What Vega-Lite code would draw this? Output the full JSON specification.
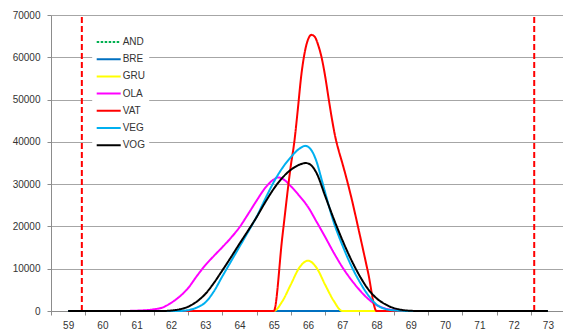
{
  "$schema": "https://vega.github.io/schema/vega-lite/v6.json",
  "width": 512,
  "height": 296,
  "autosize": {"type": "none"},
  "padding": {"left": 51, "top": 15, "right": 0, "bottom": 21},
  "background": "white",
  "config": {
    "view": {"stroke": null},
    "axis": {"labelFont": "Liberation Sans", "labelFontSize": 10, "labelColor": "#333333", "domainColor": "#8c8c8c", "tickColor": "#8c8c8c", "gridColor": "#a6a6a6", "title": null}
  },
  "datasets": {
    "limits": [{"x": 59.4}, {"x": 72.6}],
    "curves": [
      {"s": "AND", "x": 59, "y": 0}, {"s": "AND", "x": 73, "y": 0},
      {"s": "BRE", "x": 59, "y": 0}, {"s": "BRE", "x": 73, "y": 0},
      {"s": "GRU", "x": 59, "y": 0}, {"s": "GRU", "x": 65, "y": 0}, {"s": "GRU", "x": 65.25, "y": 2300}, {"s": "GRU", "x": 65.5, "y": 6300}, {"s": "GRU", "x": 65.75, "y": 10300}, {"s": "GRU", "x": 66, "y": 11900}, {"s": "GRU", "x": 66.25, "y": 10200}, {"s": "GRU", "x": 66.5, "y": 6200}, {"s": "GRU", "x": 66.75, "y": 2400}, {"s": "GRU", "x": 67, "y": 0}, {"s": "GRU", "x": 73, "y": 0},
      {"s": "OLA", "x": 59, "y": 0}, {"s": "OLA", "x": 60.5, "y": 0}, {"s": "OLA", "x": 61, "y": 80}, {"s": "OLA", "x": 61.5, "y": 400}, {"s": "OLA", "x": 61.75, "y": 800}, {"s": "OLA", "x": 62, "y": 1900}, {"s": "OLA", "x": 62.25, "y": 3400}, {"s": "OLA", "x": 62.5, "y": 5400}, {"s": "OLA", "x": 62.75, "y": 8200}, {"s": "OLA", "x": 63, "y": 10800}, {"s": "OLA", "x": 63.25, "y": 13000}, {"s": "OLA", "x": 63.5, "y": 15100}, {"s": "OLA", "x": 63.75, "y": 17300}, {"s": "OLA", "x": 64, "y": 19800}, {"s": "OLA", "x": 64.25, "y": 22900}, {"s": "OLA", "x": 64.5, "y": 26100}, {"s": "OLA", "x": 64.75, "y": 29100}, {"s": "OLA", "x": 65, "y": 31100}, {"s": "OLA", "x": 65.12, "y": 31600}, {"s": "OLA", "x": 65.25, "y": 31300}, {"s": "OLA", "x": 65.5, "y": 29500}, {"s": "OLA", "x": 65.75, "y": 27200}, {"s": "OLA", "x": 66, "y": 24600}, {"s": "OLA", "x": 66.25, "y": 21100}, {"s": "OLA", "x": 66.5, "y": 17500}, {"s": "OLA", "x": 66.75, "y": 13800}, {"s": "OLA", "x": 67, "y": 10400}, {"s": "OLA", "x": 67.25, "y": 7500}, {"s": "OLA", "x": 67.5, "y": 5000}, {"s": "OLA", "x": 67.75, "y": 2900}, {"s": "OLA", "x": 68, "y": 1400}, {"s": "OLA", "x": 68.25, "y": 600}, {"s": "OLA", "x": 68.5, "y": 200}, {"s": "OLA", "x": 69, "y": 0}, {"s": "OLA", "x": 73, "y": 0},
      {"s": "VAT", "x": 59, "y": 0}, {"s": "VAT", "x": 65, "y": 0}, {"s": "VAT", "x": 65.25, "y": 17500}, {"s": "VAT", "x": 65.5, "y": 34500}, {"s": "VAT", "x": 65.6, "y": 40000}, {"s": "VAT", "x": 65.7, "y": 47500}, {"s": "VAT", "x": 65.8, "y": 55500}, {"s": "VAT", "x": 65.9, "y": 61000}, {"s": "VAT", "x": 66, "y": 64200}, {"s": "VAT", "x": 66.1, "y": 65300}, {"s": "VAT", "x": 66.2, "y": 64800}, {"s": "VAT", "x": 66.3, "y": 62800}, {"s": "VAT", "x": 66.4, "y": 59800}, {"s": "VAT", "x": 66.5, "y": 55500}, {"s": "VAT", "x": 66.6, "y": 50300}, {"s": "VAT", "x": 66.7, "y": 45300}, {"s": "VAT", "x": 66.8, "y": 41000}, {"s": "VAT", "x": 66.9, "y": 37800}, {"s": "VAT", "x": 67, "y": 35000}, {"s": "VAT", "x": 67.25, "y": 27300}, {"s": "VAT", "x": 67.5, "y": 18400}, {"s": "VAT", "x": 67.75, "y": 9200}, {"s": "VAT", "x": 68, "y": 0}, {"s": "VAT", "x": 73, "y": 0},
      {"s": "VEG", "x": 59, "y": 0}, {"s": "VEG", "x": 62.25, "y": 0}, {"s": "VEG", "x": 62.5, "y": 200}, {"s": "VEG", "x": 62.75, "y": 800}, {"s": "VEG", "x": 63, "y": 2000}, {"s": "VEG", "x": 63.25, "y": 4600}, {"s": "VEG", "x": 63.5, "y": 8200}, {"s": "VEG", "x": 63.75, "y": 11700}, {"s": "VEG", "x": 64, "y": 15200}, {"s": "VEG", "x": 64.25, "y": 18700}, {"s": "VEG", "x": 64.5, "y": 22300}, {"s": "VEG", "x": 64.75, "y": 26500}, {"s": "VEG", "x": 65, "y": 30500}, {"s": "VEG", "x": 65.25, "y": 33800}, {"s": "VEG", "x": 65.5, "y": 36400}, {"s": "VEG", "x": 65.75, "y": 38400}, {"s": "VEG", "x": 65.92, "y": 39050}, {"s": "VEG", "x": 66.1, "y": 38000}, {"s": "VEG", "x": 66.25, "y": 35300}, {"s": "VEG", "x": 66.4, "y": 31000}, {"s": "VEG", "x": 66.5, "y": 28000}, {"s": "VEG", "x": 66.75, "y": 21000}, {"s": "VEG", "x": 67, "y": 15600}, {"s": "VEG", "x": 67.25, "y": 10900}, {"s": "VEG", "x": 67.5, "y": 7000}, {"s": "VEG", "x": 67.75, "y": 3800}, {"s": "VEG", "x": 68, "y": 1500}, {"s": "VEG", "x": 68.25, "y": 500}, {"s": "VEG", "x": 68.5, "y": 150}, {"s": "VEG", "x": 69, "y": 0}, {"s": "VEG", "x": 73, "y": 0},
      {"s": "VOG", "x": 59, "y": 0}, {"s": "VOG", "x": 61.75, "y": 0}, {"s": "VOG", "x": 62, "y": 100}, {"s": "VOG", "x": 62.25, "y": 400}, {"s": "VOG", "x": 62.5, "y": 1000}, {"s": "VOG", "x": 62.75, "y": 2200}, {"s": "VOG", "x": 63, "y": 4000}, {"s": "VOG", "x": 63.25, "y": 6600}, {"s": "VOG", "x": 63.5, "y": 9600}, {"s": "VOG", "x": 63.75, "y": 12700}, {"s": "VOG", "x": 64, "y": 15900}, {"s": "VOG", "x": 64.25, "y": 19000}, {"s": "VOG", "x": 64.5, "y": 22200}, {"s": "VOG", "x": 64.75, "y": 25700}, {"s": "VOG", "x": 65, "y": 28900}, {"s": "VOG", "x": 65.25, "y": 31500}, {"s": "VOG", "x": 65.5, "y": 33400}, {"s": "VOG", "x": 65.75, "y": 34600}, {"s": "VOG", "x": 65.93, "y": 35000}, {"s": "VOG", "x": 66.1, "y": 34400}, {"s": "VOG", "x": 66.25, "y": 32600}, {"s": "VOG", "x": 66.5, "y": 27200}, {"s": "VOG", "x": 66.75, "y": 21800}, {"s": "VOG", "x": 67, "y": 16800}, {"s": "VOG", "x": 67.25, "y": 12300}, {"s": "VOG", "x": 67.5, "y": 8400}, {"s": "VOG", "x": 67.75, "y": 5200}, {"s": "VOG", "x": 68, "y": 3000}, {"s": "VOG", "x": 68.25, "y": 1600}, {"s": "VOG", "x": 68.5, "y": 700}, {"s": "VOG", "x": 68.75, "y": 250}, {"s": "VOG", "x": 69, "y": 50}, {"s": "VOG", "x": 69.25, "y": 0}, {"s": "VOG", "x": 73, "y": 0}
    ]
  },
  "layer": [
    {
      "data": {"name": "limits"},
      "mark": {"type": "rule", "color": "#ff0000", "strokeWidth": 2, "strokeDash": [6, 3]},
      "encoding": {
        "x": {"field": "x", "type": "quantitative", "scale": {"domain": [58.5, 73.44], "nice": false, "zero": false},
          "axis": {"values": [59, 60, 61, 62, 63, 64, 65, 66, 67, 68, 69, 70, 71, 72, 73], "format": "d", "labelOverlap": false, "labelBound": false, "labelFlush": false,
            "tickSize": 4, "tickOffset": -17.13, "labelOffset": 17.13, "labelPadding": 5, "labelBaseline": "top", "grid": false}},
        "y": {"datum": 0, "type": "quantitative"},
        "y2": {"datum": 70000}
      }
    },
    {
      "data": {"name": "curves"},
      "mark": {"type": "line", "interpolate": "monotone", "strokeWidth": 2},
      "encoding": {
        "x": {"field": "x", "type": "quantitative", "scale": {"domain": [58.5, 73.44], "nice": false, "zero": false},
          "axis": {"values": [59, 60, 61, 62, 63, 64, 65, 66, 67, 68, 69, 70, 71, 72, 73], "format": "d", "labelOverlap": false, "labelBound": false, "labelFlush": false,
            "tickSize": 4, "tickOffset": -17.13, "labelOffset": 17.13, "labelPadding": 5, "labelBaseline": "top", "grid": false}},
        "y": {"field": "y", "type": "quantitative", "scale": {"domain": [0, 70000], "nice": false},
          "axis": {"values": [0, 10000, 20000, 30000, 40000, 50000, 60000, 70000], "format": "d", "grid": true, "tickSize": 4, "labelPadding": 7, "labelFlush": false, "labelOverlap": false}},
        "color": {"field": "s", "type": "nominal", "title": null,
          "scale": {"domain": ["AND", "BRE", "GRU", "OLA", "VAT", "VEG", "VOG"], "range": ["#00b050", "#0070c0", "#ffff00", "#ff00ff", "#ff0000", "#00b0f0", "#000000"]},
          "legend": {"orient": "none", "legendX": 41.2, "legendY": 16, "padding": 3.5, "fillColor": "white", "clipHeight": 15, "rowPadding": 2.2, "symbolType": "stroke", "symbolSize": 576, "symbolStrokeWidth": 2, "labelOffset": 1, "labelFont": "Liberation Sans", "labelFontSize": 10, "labelColor": "#333333"}},
        "strokeDash": {"field": "s", "type": "nominal", "title": null,
          "scale": {"domain": ["AND", "BRE", "GRU", "OLA", "VAT", "VEG", "VOG"], "range": [[2.5, 1.5], [1, 0], [1, 0], [1, 0], [1, 0], [1, 0], [1, 0]]}}
      }
    }
  ]
}
